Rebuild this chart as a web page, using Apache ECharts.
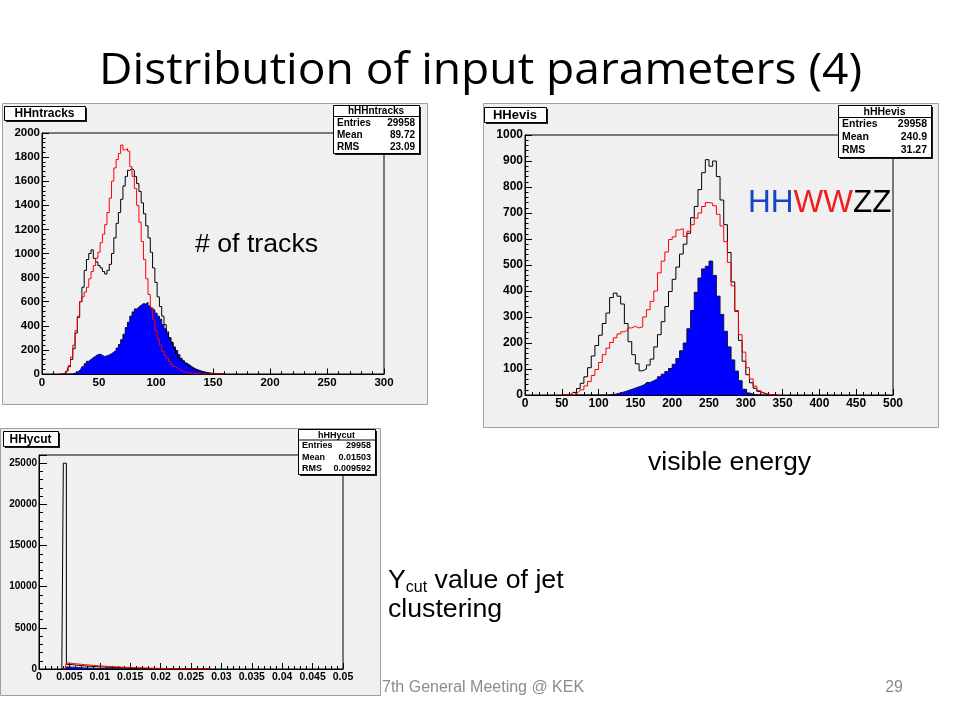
<!DOCTYPE html>
<html><head><meta charset="utf-8">
<script src="https://cdn.jsdelivr.net/npm/echarts@6/dist/echarts.min.js"></script>
<style>html,body{margin:0;padding:0;background:#fff}#c{width:960px;height:720px}</style>
</head><body><div id="c"></div>
<script>
// ---------------- data ----------------
const slideTitle = 'Distribution of input parameters (4)';
const statLabels = ['Entries', 'Mean', 'RMS'];

// Panel 1 : number of tracks (bin centres, width 2)
const ntracksX = [
  16,18,20,22,24,26,28,30,32,34,
  36,38,40,42,44,46,48,50,52,54,
  56,58,60,62,64,66,68,70,72,74,
  76,78,80,82,84,86,88,90,92,94,
  96,98,100,102,104,106,108,110,112,114,
  116,118,120,122,124,126,128,130,132,134,
  136,138,140,142,144,146,148,150,152,154,
  156,158,160];
const ntracksBlack = [
  0,0,5,20,60,120,210,340,470,600,
  720,860,950,1000,1030,960,930,900,880,850,
  830,860,910,1000,1130,1250,1340,1450,1560,1640,
  1690,1705,1690,1640,1580,1515,1420,1330,1230,1130,
  1010,880,760,640,560,480,410,350,300,250,
  210,170,130,110,95,80,65,52,42,35,
  30,24,18,13,10,7,5,3,2,1,
  1,0,0];
const ntracksRed = [
  0,0,5,25,70,140,240,360,480,600,
  640,680,720,790,850,900,960,1010,1090,1160,
  1240,1340,1460,1600,1710,1780,1830,1900,1860,1870,
  1850,1720,1640,1540,1400,1260,1100,950,790,660,
  550,450,360,290,240,190,155,130,105,80,
  62,48,36,26,19,14,10,7,5,3,
  2,1,1,0,0,0,0,0,0,0,
  0,0,0];
const ntracksBlue = [
  0,0,0,0,0,0,3,10,22,38,
  60,85,105,120,135,148,160,165,155,145,
  150,158,168,182,195,215,245,285,330,385,
  430,480,515,540,555,570,585,580,595,565,
  545,530,505,480,455,410,375,340,300,265,
  225,195,160,130,110,92,78,65,52,42,
  34,27,21,16,12,8,5,3,2,1,
  0,0,0];
const ntracksStats = ['29958', '89.72', '23.09'];
const ntracksXTicks = [0, 300, 50];
const ntracksYTicks = [0, 2000, 200];

// Panel 2 : visible energy (bin centres, width 5)
const evisX = [
  52.5,57.5,62.5,67.5,72.5,77.5,82.5,87.5,92.5,97.5,
  102.5,107.5,112.5,117.5,122.5,127.5,132.5,137.5,142.5,147.5,
  152.5,157.5,162.5,167.5,172.5,177.5,182.5,187.5,192.5,197.5,
  202.5,207.5,212.5,217.5,222.5,227.5,232.5,237.5,242.5,247.5,
  252.5,257.5,262.5,267.5,272.5,277.5,282.5,287.5,292.5,297.5,
  302.5,307.5,312.5,317.5,322.5,327.5,332.5,337.5,342.5];
const evisBlack = [
  0,0,2,10,25,45,70,105,150,190,
  230,275,315,375,392,380,350,275,205,155,
  120,93,100,115,138,185,232,282,340,398,
  445,492,542,580,622,682,725,790,855,905,
  880,900,840,750,655,548,435,322,210,130,
  78,47,26,14,7,3,1,0,0];
const evisRed = [
  0,0,0,3,10,20,35,52,75,98,
  125,155,180,202,220,235,243,250,258,264,
  258,262,300,328,360,400,470,515,550,598,
  608,635,640,610,630,655,680,700,725,740,
  738,728,695,650,590,510,420,325,232,165,
  105,62,34,17,8,4,1,0,0];
const evisBlue = [
  0,0,0,0,0,0,0,0,0,0,
  0,0,0,1,3,6,10,14,19,24,
  29,34,40,48,55,62,70,80,90,102,
  118,140,170,200,255,325,395,450,485,495,
  515,460,380,310,245,185,135,92,55,22,
  8,3,1,0,0,0,0,0,0];
const evisStats = ['29958', '240.9', '31.27'];
const evisXTicks = [0, 500, 50];
const evisYTicks = [0, 1000, 100];

// Panel 3 : Ycut (bin centres, width 0.0005)
const ycutX = [
  0.00375,0.00425,0.00475,0.00525,0.00575,0.00625,0.00675,0.00725,0.00775,0.00825,
  0.00875,0.00925,0.00975,0.01025,0.01075,0.01125,0.01175,0.01225,0.01275,0.01325,
  0.01375,0.01425,0.01475,0.01525,0.01575,0.01625,0.01675,0.01725,0.01775,0.01825,
  0.01875,0.01925,0.01975,0.02025,0.02075,0.02125,0.02175,0.02225,0.02275,0.02325,
  0.02375,0.02425,0.02475,0.02525,0.02575,0.02625,0.02675,0.02725,0.02775,0.02825];
const ycutBlack = [
  0,25000,560,520,480,440,410,380,350,330,
  305,285,265,245,228,212,196,182,168,155,
  143,132,121,111,102,93,85,77,70,63,
  57,51,46,41,36,32,28,24,21,18,
  15,12,10,8,6,4,3,2,1,0];
const ycutRed = [
  0,0,720,680,640,600,565,530,495,465,
  435,405,380,355,330,308,287,267,248,230,
  213,197,182,168,155,142,130,119,108,98,
  89,80,72,64,57,50,44,38,33,28,
  24,20,16,13,10,7,5,3,1,0];
const ycutBlue = [
  0,0,250,220,195,170,150,130,112,97,
  84,72,62,53,45,38,32,27,22,18,
  15,12,10,8,6,5,4,3,2,1,
  1,1,0,0,0,0,0,0,0,0,
  0,0,0,0,0,0,0,0,0,0];
const ycutStats = ['29958', '0.01503', '0.009592'];
const ycutXTicks = [0, 0.05, 0.005];
const ycutYTicks = [0, 26000, 5000];

// ---------------- drawing ----------------
const ARIAL = "'Liberation Sans', Arial, Helvetica, sans-serif";
const TITLEFAMILY = "'Open Sans'";
const TITLEFONT = "'Open Sans', 'Noto Sans', sans-serif";
const CANVAS_BG = '#f0f0f0';
const TITLE_SIZE = 43.5;

function measure(text, family, weight, size) {
  const ctx = document.createElement('canvas').getContext('2d');
  ctx.font = weight + ' ' + size + 'px ' + family;
  return ctx.measureText(text).width;
}
const titleScaleX = 763 / measure(slideTitle, TITLEFAMILY, 'normal', TITLE_SIZE);

function xAx(gi, t, fs, tickLen, fmt) {
  return {
    type: 'value', gridIndex: gi, min: t[0], max: t[1], interval: t[2],
    axisLine: { show: true, onZero: false, lineStyle: { color: '#000', width: 1 } },
    axisTick: { show: true, inside: true, length: tickLen, lineStyle: { color: '#000', width: 1 } },
    minorTick: { show: true, splitNumber: 5, length: tickLen / 2, lineStyle: { color: '#000', width: 1 } },
    splitLine: { show: false }, minorSplitLine: { show: false },
    axisLabel: { show: true, margin: 3, color: '#000', fontFamily: ARIAL, fontWeight: 'bold', fontSize: fs,
      formatter: fmt || (v => String(v)) }
  };
}
function yAx(gi, t, fs, tickLen, hideMax) {
  return {
    type: 'value', gridIndex: gi, min: t[0], max: t[1], interval: t[2],
    axisLine: { show: true, onZero: false, lineStyle: { color: '#000', width: 1 } },
    axisTick: { show: true, inside: true, length: tickLen, lineStyle: { color: '#000', width: 1 } },
    minorTick: { show: true, splitNumber: 5, length: tickLen / 2, lineStyle: { color: '#000', width: 1 } },
    splitLine: { show: false }, minorSplitLine: { show: false },
    axisLabel: { show: true, margin: 2, color: '#000', fontFamily: ARIAL, fontWeight: 'bold', fontSize: fs,
      showMaxLabel: !hideMax, formatter: v => String(v) }
  };
}
function hist(xs, ys, gi, color, fill, z) {
  const s = {
    type: 'line', xAxisIndex: gi, yAxisIndex: gi, step: 'middle',
    data: xs.map((x, i) => [x, ys[i]]),
    symbol: 'none', showSymbol: false, silent: true, animation: false, clip: true,
    lineStyle: { color: color, width: 1 }, z: z
  };
  if (fill) s.areaStyle = { color: fill, opacity: 1 };
  return s;
}

function shadowBox(x, y, w, h, z) {
  return [
    { type: 'rect', z: z, shape: { x: x + 2, y: y + 2, width: w, height: h }, style: { fill: '#1a1a1a' } },
    { type: 'rect', z: z + 1, shape: { x: x + 0.5, y: y + 0.5, width: w, height: h }, style: { fill: '#fff', stroke: '#000', lineWidth: 1 } }
  ];
}
function txt(x, y, text, size, opts) {
  opts = opts || {};
  const el = {
    type: 'text', z: opts.z || 60, x: x, y: y,
    style: {
      text: text, fontSize: size, fontFamily: opts.family || ARIAL, fontWeight: opts.weight || 'normal',
      fill: opts.color || '#000', align: opts.align || 'left', verticalAlign: opts.valign || 'middle',
      rich: opts.rich
    }
  };
  if (opts.scaleX) el.scaleX = opts.scaleX;
  return el;
}
function statsBox(name, vals, x, y, w, h, titleH, rowYs, fs) {
  const els = shadowBox(x, y, w, h, 70);
  els.push({ type: 'line', z: 72, shape: { x1: x, y1: y + titleH + 0.5, x2: x + w, y2: y + titleH + 0.5 }, style: { stroke: '#000', lineWidth: 1 } });
  els.push(txt(x + w / 2, y + titleH / 2 + 1, name, fs, { weight: 'bold', align: 'center', z: 73 }));
  statLabels.forEach((lab, i) => {
    els.push(txt(x + 4, rowYs[i], lab, fs, { weight: 'bold', z: 73 }));
    els.push(txt(x + w - 4, rowYs[i], vals[i], fs, { weight: 'bold', align: 'right', z: 73 }));
  });
  return els;
}
function titleBox(name, x, y, w, h, fs) {
  const els = shadowBox(x, y, w, h, 70);
  els.push(txt(x + w / 2, y + h / 2 + 1, name, fs, { weight: 'bold', align: 'center', z: 73 }));
  return els;
}
function panelBg(x, y, w, h) {
  return { type: 'rect', z: -10, shape: { x: x + 0.5, y: y + 0.5, width: w, height: h }, style: { fill: CANVAS_BG, stroke: '#a0a0a0', lineWidth: 1 } };
}

const graphics = [].concat(
  [panelBg(2, 103, 425, 301), panelBg(483, 103, 455, 324), panelBg(0, 428, 380, 267)],
  titleBox('HHntracks', 4, 106, 81, 14, 12),
  titleBox('HHevis', 484, 107, 62, 15, 13),
  titleBox('HHycut', 3, 431, 55, 15, 12),
  statsBox('hHHntracks', ntracksStats, 333, 105, 86, 48, 11, [123, 135, 147], 10),
  statsBox('hHHevis', evisStats, 838, 105, 93, 52, 12, [124.5, 137.5, 150.5], 10.5),
  statsBox('hHHycut', ycutStats, 298, 429, 77, 45, 10.5, [446, 457.5, 468.5], 9),
  [
    txt(480.5, 88.5 - 0.388 * TITLE_SIZE, slideTitle, TITLE_SIZE, { family: TITLEFONT, align: 'center', scaleX: titleScaleX }),
    txt(195, 254 - 9.3, '# of tracks', 26.7),
    txt(648, 472 - 9.3, 'visible energy', 26.7),
    txt(748, 214 - 11, '{b|HH}{r|WW}{k|ZZ}', 31.5, { rich: {
      b: { fill: '#1546c4', fontSize: 31.5, fontFamily: ARIAL },
      r: { fill: '#ee1c1c', fontSize: 31.5, fontFamily: ARIAL },
      k: { fill: '#000', fontSize: 31.5, fontFamily: ARIAL } } }),
    txt(388, 566, '{m|Y}{s|cut}{m| value of jet}', 26.7, { valign: 'top', rich: {
      m: { fontSize: 26.7, fontFamily: ARIAL, lineHeight: 30, verticalAlign: 'middle' },
      s: { fontSize: 16, fontFamily: ARIAL, lineHeight: 16, verticalAlign: 'bottom' } } }),
    txt(388, 619 - 9.3, 'clustering', 26.7),
    txt(382, 693 - 5.6, '7th General Meeting @ KEK', 16, { color: '#8c8c8c' }),
    txt(903, 693 - 5.6, '29', 16, { color: '#8c8c8c', align: 'right' })
  ]
);

const gridBase = { show: true, borderColor: '#000', borderWidth: 1, backgroundColor: 'transparent', containLabel: false, outerBoundsMode: 'none' };
const option = {
  backgroundColor: '#ffffff',
  animation: false,
  grid: [
    Object.assign({ left: 42, top: 133, width: 342, height: 241 }, gridBase),
    Object.assign({ left: 525, top: 135, width: 368, height: 260 }, gridBase),
    Object.assign({ left: 39, top: 455, width: 304, height: 214 }, gridBase)
  ],
  xAxis: [
    xAx(0, ntracksXTicks, 11.5, 5.5),
    xAx(1, evisXTicks, 12, 6),
    xAx(2, ycutXTicks, 10.5, 6, v => String(+v.toFixed(3)))
  ],
  yAxis: [
    yAx(0, ntracksYTicks, 11.5, 7),
    yAx(1, evisYTicks, 12, 7),
    yAx(2, ycutYTicks, 10, 8, true)
  ],
  series: [
    hist(ntracksX, ntracksBlue, 0, '#101040', '#0000ff', 2),
    hist(ntracksX, ntracksBlack, 0, '#000000', null, 3),
    hist(ntracksX, ntracksRed, 0, '#ff0000', null, 4),
    hist(evisX, evisBlue, 1, '#101040', '#0000ff', 2),
    hist(evisX, evisBlack, 1, '#000000', null, 3),
    hist(evisX, evisRed, 1, '#ff0000', null, 4),
    hist(ycutX, ycutBlue, 2, '#101040', '#0000ff', 2),
    hist(ycutX, ycutBlack, 2, '#000000', null, 3),
    hist(ycutX, ycutRed, 2, '#ff0000', null, 4)
  ],
  graphic: { elements: graphics }
};
const chart = echarts.init(document.getElementById('c'), null, { renderer: 'canvas', width: 960, height: 720 });
chart.setOption(option);
</script></body></html>
